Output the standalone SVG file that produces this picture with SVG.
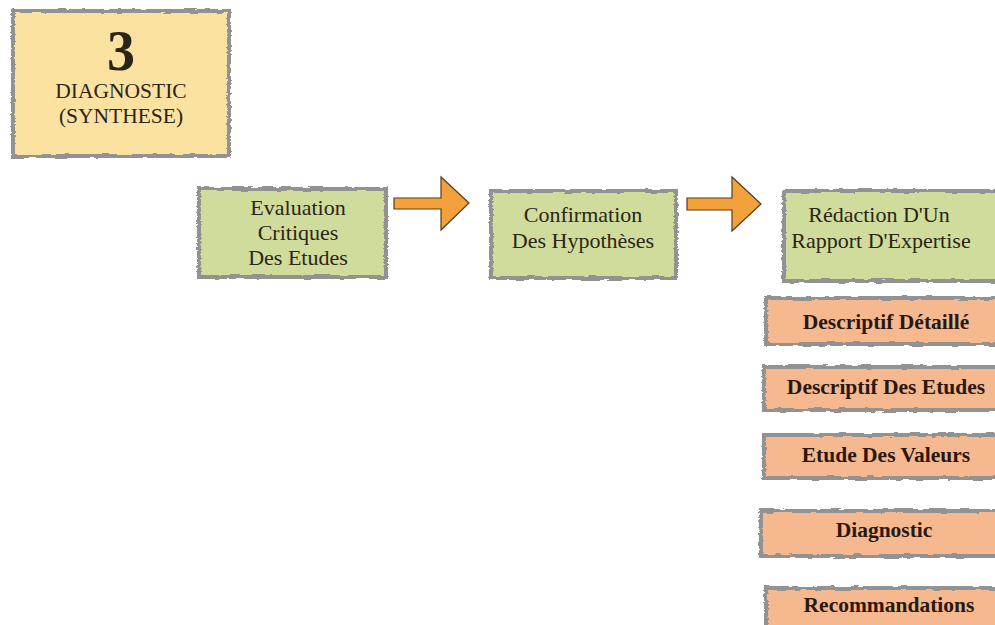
<svg xmlns="http://www.w3.org/2000/svg" width="995" height="625" viewBox="0 0 995 625">
  <defs>
    <!-- brush-like roughening for the painted box edges -->
    <filter id="rough" x="-5%" y="-10%" width="110%" height="120%">
      <feTurbulence type="fractalNoise" baseFrequency="0.08 0.5" numOctaves="2" seed="4" result="n"/>
      <feDisplacementMap in="SourceGraphic" in2="n" scale="4" xChannelSelector="R" yChannelSelector="G"/>
    </filter>
    <style>
      .edge { fill: none; stroke: #929292; stroke-width: 4; filter: url(#rough); }
      .yellow { fill: #fbe2a1; }
      .green { fill: #d0dc9b; }
      .peach { fill: #f6b88f; }
      .t { font-family: "Liberation Serif", "DejaVu Serif", serif; fill: #2b2418; text-anchor: middle; }
      .tg { font-size: 22px; }
      .tp { font-size: 21.5px; font-weight: bold; fill: #2a1810; }
      .arrow { fill: #f3a23b; stroke: #5a3a1a; stroke-width: 1.2; stroke-linejoin: miter; }
    </style>
  </defs>

  <rect width="995" height="625" fill="#ffffff"/>

  <g id="step3">
    <rect class="yellow" x="13" y="11" width="216" height="145"/>
    <rect class="edge" x="13" y="11" width="216" height="145"/>
    <text class="t" x="121" y="70" font-size="56" font-weight="bold">3</text>
    <text class="t" x="121" y="98" font-size="21.5">DIAGNOSTIC</text>
    <text class="t" x="121" y="123" font-size="21.5">(SYNTHESE)</text>
  </g>

  <g id="evaluation">
    <rect class="green" x="199" y="189" width="187" height="88"/>
    <rect class="edge" x="199" y="189" width="187" height="88"/>
    <text class="t tg" x="298" y="215">Evaluation</text>
    <text class="t tg" x="298" y="240">Critiques</text>
    <text class="t tg" x="298" y="265">Des Etudes</text>
  </g>

  <g id="confirmation">
    <rect class="green" x="491" y="191" width="185" height="87"/>
    <rect class="edge" x="491" y="191" width="185" height="87"/>
    <text class="t tg" x="583" y="222">Confirmation</text>
    <text class="t tg" x="583" y="248">Des Hypothèses</text>
  </g>

  <g id="redaction">
    <rect class="green" x="784" y="191" width="214" height="90"/>
    <rect class="edge" x="784" y="191" width="214" height="90"/>
    <text class="t tg" x="879" y="222">Rédaction D'Un</text>
    <text class="t tg" x="881" y="248">Rapport D'Expertise</text>
  </g>

  <g id="descriptif-detaille">
    <rect class="peach" x="766" y="298" width="232" height="46"/>
    <rect class="edge" x="766" y="298" width="232" height="46"/>
    <text class="t tp" x="886" y="329">Descriptif Détaillé</text>
  </g>

  <g id="descriptif-etudes">
    <rect class="peach" x="764" y="367" width="234" height="43"/>
    <rect class="edge" x="764" y="367" width="234" height="43"/>
    <text class="t tp" x="886" y="394">Descriptif Des Etudes</text>
  </g>

  <g id="etude-valeurs">
    <rect class="peach" x="764" y="435" width="234" height="43"/>
    <rect class="edge" x="764" y="435" width="234" height="43"/>
    <text class="t tp" x="886" y="462">Etude Des Valeurs</text>
  </g>

  <g id="diagnostic">
    <rect class="peach" x="761" y="511" width="237" height="45"/>
    <rect class="edge" x="761" y="511" width="237" height="45"/>
    <text class="t tp" x="884" y="537">Diagnostic</text>
  </g>

  <g id="recommandations">
    <rect class="peach" x="766" y="588" width="232" height="40"/>
    <rect class="edge" x="766" y="588" width="232" height="40"/>
    <text class="t tp" x="889" y="612">Recommandations</text>
  </g>

  <g id="connectors">
    <path class="arrow" d="M394,198 L441,198 L441,177 L469,203 L441,230 L441,209 L394,209 Z"/>
    <path class="arrow" d="M687,198 L732,198 L732,177 L761,204 L732,231 L732,210 L687,210 Z"/>
  </g>
</svg>
